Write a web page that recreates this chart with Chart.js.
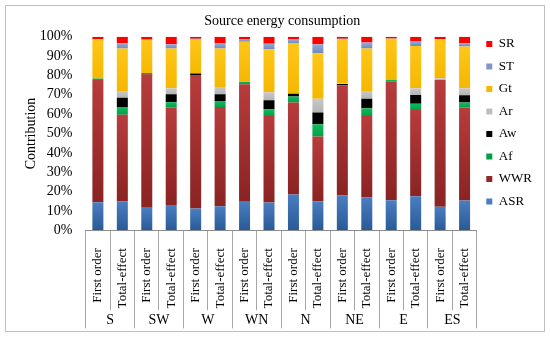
<!DOCTYPE html>
<html>
<head>
<meta charset="utf-8">
<script src="https://cdn.jsdelivr.net/npm/chart.js@4.4.1/dist/chart.umd.min.js"></script>
<style>
  html, body { margin: 0; padding: 0; background: #fff; }
  #frame {
    position: absolute; left: 5px; top: 5px;
    width: 538px; height: 325px;
    border: 1px solid #bfbfbf;
  }
</style>
</head>
<body>
<div id="frame"><canvas id="energy-chart"></canvas></div>
<script>
// bar labels (two per orientation) and orientation groups
let bar_labels = ['First order', 'Total-effect', 'First order', 'Total-effect',
    'First order', 'Total-effect', 'First order', 'Total-effect',
    'First order', 'Total-effect', 'First order', 'Total-effect',
    'First order', 'Total-effect', 'First order', 'Total-effect'];
let group_labels = ['S', 'SW', 'W', 'WN', 'N', 'NE', 'E', 'ES'];

// contribution in %, bottom of the stack first
let asr = [14.4, 15.0, 11.6, 13.0, 11.2, 12.4, 14.7, 14.3, 18.5, 15.0, 18.0, 17.1, 15.5, 17.6, 12.1, 15.4];
let wwr = [63.2, 44.7, 68.9, 50.4, 69.1, 51.3, 60.8, 44.8, 47.5, 33.4, 56.5, 42.0, 61.2, 44.6, 65.6, 48.0];
let af  = [0.8, 3.7, 0, 2.8, 0, 3.1, 1.2, 3.4, 3.1, 6.4, 0.3, 3.9, 0.9, 3.2, 0, 2.6];
let aw  = [0, 5.1, 0.5, 4.1, 0.7, 3.5, 0, 4.7, 1.5, 6.0, 0.8, 5.0, 0, 4.5, 0, 3.8];
let ar  = [0, 3.5, 0, 3.1, 0, 3.8, 0.5, 4.1, 0, 7.2, 0.4, 4.0, 0, 3.5, 0.9, 3.6];
let gt  = [20.2, 21.9, 17.4, 20.5, 17.8, 19.8, 20.2, 22.2, 25.9, 23.5, 22.8, 21.9, 21.4, 21.9, 20.2, 21.6];
let st  = [0.2, 2.8, 0.2, 2.3, 0.2, 2.6, 1.2, 2.9, 2.1, 4.7, 0.2, 3.1, 0.1, 2.3, 0, 1.7];
let sr  = [1.2, 3.3, 1.4, 3.8, 1.0, 3.5, 1.4, 3.6, 1.4, 3.8, 1.0, 3.0, 0.9, 2.4, 1.2, 3.3];

let series_names = ['ASR', 'WWR', 'Af', 'Aw', 'Ar', 'Gt', 'ST', 'SR'];
let series_values = [asr, wwr, af, aw, ar, gt, st, sr];

// [legend colour, top of segment, bottom of segment]
let series_colors = [
    ['#3B6DB0', '#4A7EC2', '#2A5A96'],
    ['#A22E2E', '#B83C3C', '#8A2323'],
    ['#00B050', '#10BA5A', '#00A048'],
    ['#000000', '#000000', '#000000'],
    ['#BFBFBF', '#C8C8C8', '#B4B4B4'],
    ['#FFC000', '#FFC61A', '#F5B800'],
    ['#8096C8', '#95ABD6', '#6F88BD'],
    ['#FF0000', '#FF0000', '#FF0000'],
];

const serif = "'Liberation Serif', 'Times New Roman', serif";
Chart.defaults.font.family = serif;
Chart.defaults.color = '#000';

// excel-like gradient, one per stacked segment
function segment_fill(context, k) {
    let colors = series_colors[k];
    if (context.dataIndex === undefined) return colors[0];
    let chart = context.chart;
    let y_scale = chart.scales.y;
    if (!y_scale) return colors[0];
    let start = 0;
    for (let j = 0; j < k; j++) start += series_values[j][context.dataIndex];
    let end = start + series_values[k][context.dataIndex];
    let y0 = y_scale.getPixelForValue(end);
    let y1 = y_scale.getPixelForValue(start);
    if (!isFinite(y0) || !isFinite(y1) || y1 - y0 < 1) return colors[0];
    let g = chart.ctx.createLinearGradient(0, y0, 0, y1);
    g.addColorStop(0, colors[1]);
    g.addColorStop(1, colors[2]);
    return g;
}

let datasets = series_names.map((name, k) => ({
    label: name,
    data: series_values[k],
    backgroundColor: (c) => segment_fill(c, k),
    borderWidth: 0,
    barPercentage: 0.45,
    categoryPercentage: 1.0,
}));

let ctx = document.getElementById('energy-chart');
let energy_chart = new Chart(ctx, {
    type: 'bar',
    data: {
        labels: bar_labels,
        datasets: datasets,
    },
    options: {
        responsive: true,
        maintainAspectRatio: false,
        animation: false,
        layout: { padding: { top: 7, left: 16.6, right: 2, bottom: 2.6 } },
        plugins: {
            title: {
                display: true,
                text: 'Source energy consumption',
                font: { family: serif, size: 14, weight: 'normal' },
                color: '#000',
                padding: { top: 0, bottom: 7 },
            },
            legend: {
                position: 'right',
                align: 'start',
                reverse: true,
                // empty title only pushes the items down
                title: { display: true, text: '', font: { size: 10 }, padding: { top: 3, bottom: 0 } },
                labels: {
                    boxWidth: 6,
                    boxHeight: 6,
                    padding: 9.5,
                    font: { family: serif, size: 13 },
                    color: '#000',
                },
            },
            tooltip: { enabled: false },
        },
        scales: {
            x: {
                stacked: true,
                offset: true,
                weight: 0,
                grid: {
                    offset: true,
                    drawOnChartArea: false,
                    drawTicks: true,
                    tickLength: 80,
                    color: '#a6a6a6',
                },
                border: { display: true, color: '#8c8c8c' },
                // empty title reserves the room of the rotated labels
                title: { display: true, text: '', font: { size: 10 }, padding: { top: 50, bottom: 0 } },
                ticks: {
                    autoSkip: false,
                    minRotation: 90,
                    maxRotation: 90,
                    padding: -62,
                    font: { family: serif, size: 13 },
                    color: '#000',
                },
            },
            x2: {
                type: 'category',
                labels: group_labels,
                position: 'bottom',
                offset: true,
                weight: 1,
                grid: {
                    offset: true,
                    drawOnChartArea: false,
                    drawTicks: true,
                    tickLength: 20,
                    color: '#a6a6a6',
                },
                border: { display: false },
                title: { display: true, text: '', font: { size: 10 }, padding: { top: 4.8, bottom: 0 } },
                ticks: {
                    autoSkip: false,
                    maxRotation: 0,
                    padding: -16.8,
                    font: { family: serif, size: 14 },
                    color: '#000',
                },
            },
            y: {
                stacked: true,
                min: 0,
                max: 100,
                grid: { display: false, drawTicks: false },
                border: { display: false },
                title: {
                    display: true,
                    text: 'Contribution',
                    font: { family: serif, size: 14 },
                    color: '#000',
                    padding: { top: 0, bottom: -13 },
                },
                ticks: {
                    stepSize: 10,
                    autoSkip: false,
                    padding: 13.3,
                    font: { family: serif, size: 14 },
                    color: '#000',
                    callback: (v) => v + '%',
                },
            },
        },
    },
});
</script>
</body>
</html>
